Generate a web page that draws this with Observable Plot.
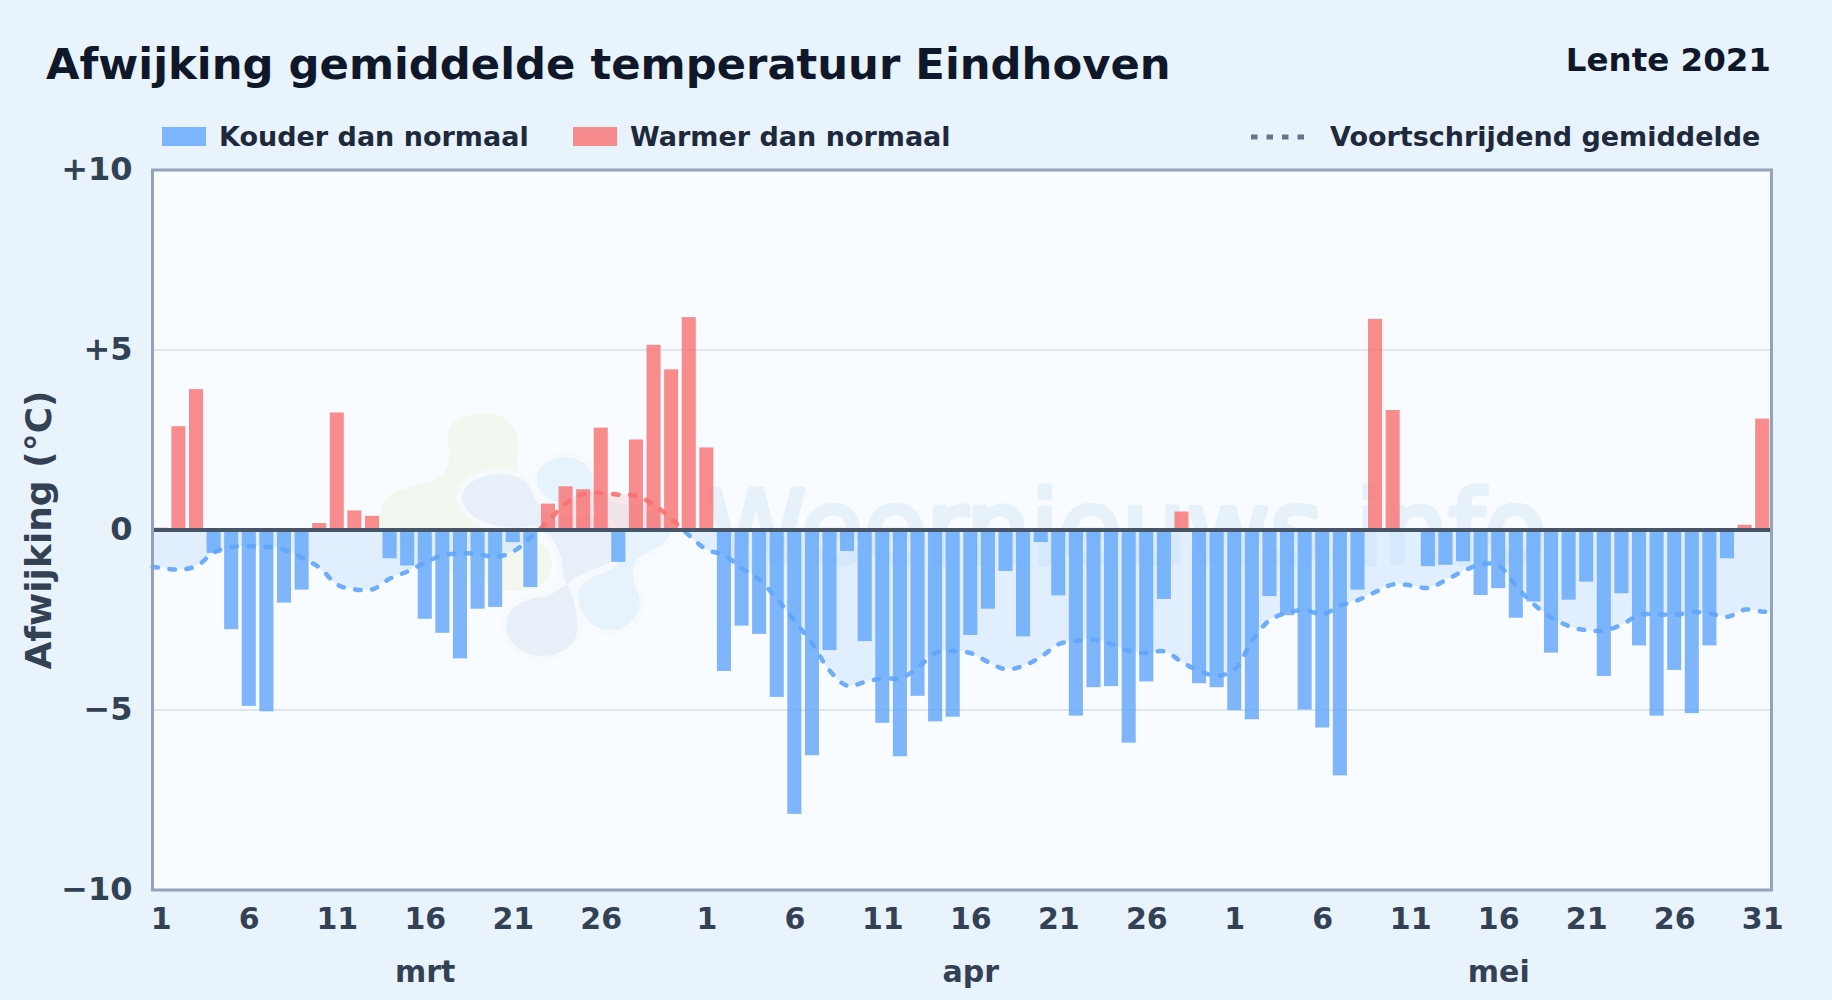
<!DOCTYPE html>
<html lang="nl">
<head>
<meta charset="utf-8">
<title>Afwijking gemiddelde temperatuur Eindhoven</title>
<script src="https://cdn.jsdelivr.net/npm/d3@7"></script>
<script src="https://cdn.jsdelivr.net/npm/@observablehq/plot@0.6"></script>
<style>
  html,body{margin:0;padding:0;background:#e8f3fc;}
  body{width:1832px;height:1000px;position:relative;overflow:hidden;font-family:"DejaVu Sans",sans-serif;font-weight:700;}
  #header{position:relative;height:130px;}
  #header > *{position:absolute;white-space:nowrap;}
  #title{left:46px;top:39px;font-size:43.3px;line-height:50px;color:#0f172a;}
  #season{right:61px;top:41px;font-size:32.5px;line-height:38px;color:#0f172a;}
  .lab{top:120px;font-size:27px;line-height:34px;color:#1e293b;}
  .sw{top:127px;height:19px;width:44px;}
  #chart{position:absolute;left:0;top:130px;}
  #chart svg{display:block;background:transparent;}
</style>
</head>
<body>
<div id="header">
  <div id="title">Afwijking gemiddelde temperatuur Eindhoven</div>
  <div id="season">Lente 2021</div>
  <div class="sw" style="left:162px;background:#60a5fa;opacity:.8"></div>
  <div class="lab" style="left:219px">Kouder dan normaal</div>
  <div class="sw" style="left:573px;background:#f87171;opacity:.8"></div>
  <div class="lab" style="left:630px">Warmer dan normaal</div>
  <svg style="left:1250px;top:130px" width="60" height="14"><line x1="1" x2="59" y1="7" y2="7" stroke="#64748b" stroke-width="5" stroke-dasharray="6.5 9"/></svg>
  <div class="lab" style="left:1330px">Voortschrijdend gemiddelde</div>
</div>
<div id="chart"></div>
<script>
// Maanden
const months = ["mrt", "apr", "mei"];
const monthLengths = [31, 30, 31];
const dayTicks = [1, 6, 11, 16, 21, 26];
const monthLabelDay = 16;
const yTicks = [-10, -5, 0, 5, 10];

// Dagelijkse afwijking (°C)
const devMrt = [0.05, 2.87, 3.9, -0.65, -2.77, -4.9, -5.05, -2.03, -1.67, 0.18, 3.25, 0.53, 0.38, -0.8, -1.0, -2.48, -2.87, -3.58, -2.2, -2.15, -0.35, -1.6, 0.72, 1.2, 1.12, 2.83, -0.9, 2.5, 5.13, 4.45, 5.9];
const devApr = [2.28, -3.93, -2.67, -2.9, -4.65, -7.9, -6.27, -3.35, -0.6, -3.1, -5.37, -6.3, -4.62, -5.33, -5.2, -2.93, -2.2, -1.15, -2.97, -0.35, -1.83, -5.17, -4.38, -4.35, -5.92, -4.22, -1.93, 0.5, -4.27, -4.38];
const devMei = [-5.02, -5.27, -1.85, -2.38, -5.0, -5.5, -6.83, -1.67, 5.85, 3.32, 0, -1.02, -0.98, -0.88, -1.82, -1.63, -2.45, -2.0, -3.42, -1.95, -1.45, -4.07, -1.77, -3.22, -5.17, -3.9, -5.1, -3.22, -0.8, 0.13, 3.08];

// Voortschrijdend gemiddelde (°C)
const avgMrt = [-1.05, -1.1, -1.0, -0.62, -0.48, -0.45, -0.47, -0.55, -0.78, -1.05, -1.52, -1.65, -1.65, -1.35, -1.15, -0.9, -0.7, -0.65, -0.67, -0.75, -0.6, -0.2, 0.25, 0.75, 1.0, 1.03, 0.98, 0.95, 0.7, 0.3, -0.15];
const avgApr = [-0.55, -0.7, -1.07, -1.39, -1.93, -2.53, -3.17, -3.92, -4.33, -4.22, -4.12, -4.12, -3.82, -3.42, -3.37, -3.42, -3.67, -3.87, -3.77, -3.52, -3.17, -3.08, -3.05, -3.17, -3.37, -3.42, -3.37, -3.67, -3.92, -4.05];
const avgMei = [-3.87, -3.06, -2.5, -2.3, -2.23, -2.34, -2.1, -1.95, -1.72, -1.51, -1.54, -1.61, -1.39, -1.14, -0.95, -0.99, -1.57, -2.07, -2.44, -2.67, -2.79, -2.79, -2.63, -2.36, -2.34, -2.36, -2.28, -2.32, -2.41, -2.21, -2.27];
const avgEdgeStart = -1.03;
const avgEdgeEnd = -2.28;

// Tabellen
const monthStart = d3.cumsum([0, ...monthLengths]);
const totalDays = d3.sum(monthLengths);
const bars = [...devMrt, ...devApr, ...devMei].map((v, i) => ({i, v}));
const avg = [...avgMrt, ...avgApr, ...avgMei].map((v, i) => ({x: i + 0.5, v}));
const avgLine = [{x: 0, v: avgEdgeStart}, ...avg, {x: totalDays, v: avgEdgeEnd}];

const dayTickPos = [], dayTickText = new Map();
monthLengths.forEach((n, m) => dayTicks.concat(m === 2 ? [31] : []).forEach(d => {
  const p = monthStart[m] + d - 0.5;
  dayTickPos.push(p); dayTickText.set(p, String(d));
}));
const monthTickPos = months.map((_, m) => monthStart[m] + monthLabelDay - 0.5);

const vMax = d3.max(avgLine, d => d.v), vMin = d3.min(avgLine, d => d.v);
const zeroOffset = vMax / (vMax - vMin);

function gradients() {
  const defs = d3.create("svg:defs");
  const grad = (id, top, bottom) => {
    const g = defs.append("linearGradient").attr("id", id).attr("x1", 0).attr("x2", 0).attr("y1", 0).attr("y2", 1);
    [[0, top], [zeroOffset, top], [zeroOffset, bottom], [1, bottom]].forEach(([o, c]) =>
      g.append("stop").attr("offset", o).attr("stop-color", c));
  };
  grad("avgStroke", "#f87171", "#60a5fa");
  grad("avgFill", "#fecaca", "#bfdbfe");
  return defs.node();
}

// Decoratief logo in de achtergrond van het watermerk
function logo() {
  const g = d3.create("svg:g").attr("transform", "translate(360,260) scale(.3333)");
  const bg = "#f6fafd";
  g.append("path").attr("fill", "#f2f8f0").attr("d",
    "M265,130 C262,170 280,210 250,250 C225,280 130,290 90,315 C55,340 55,390 60,430 L150,500 L430,600 C470,610 530,600 560,570 C590,530 575,480 530,450 L470,230 C470,190 480,160 470,130 C450,90 420,70 380,70 C320,70 265,90 265,130 Z");
  g.append("path").attr("fill", "#e7eff8").attr("stroke", bg).attr("stroke-width", 32).attr("paint-order", "stroke").attr("d",
    "M305,325 C310,270 380,250 430,252 C490,255 510,285 520,315 C535,350 570,375 640,375 C700,370 760,400 790,440 C800,480 780,510 720,530 C660,545 620,590 560,620 C490,625 440,650 438,705 C440,770 500,798 550,798 C610,795 655,760 653,710 C650,650 640,620 610,560 C610,500 590,430 520,408 C430,425 320,400 305,325 Z");
  g.append("path").attr("fill", "#e6f3fd").attr("stroke", bg).attr("stroke-width", 30).attr("paint-order", "stroke").attr("d",
    "M530,265 C530,225 580,200 620,200 C670,205 700,240 700,275 C695,310 730,330 800,345 C880,370 930,390 932,425 C925,465 870,480 835,505 C810,530 815,570 835,610 C855,670 800,722 755,722 C700,720 660,680 655,625 C645,590 690,560 740,545 C780,530 810,480 770,410 C720,350 640,345 580,335 C550,320 530,300 530,265 Z");
  return g.node();
}

const fmtY = v => v > 0 ? "+" + v : v < 0 ? "\u2212" + Math.abs(v) : "0";
const tickFont = {fontSize: 30, fontWeight: 700, fill: "#334155"};

const chart = Plot.plot({
  width: 1832,
  height: 870,
  marginTop: 39.5,
  marginBottom: 110.5,
  marginLeft: 152,
  marginRight: 61,
  style: {fontFamily: "'DejaVu Sans', sans-serif", background: "transparent"},
  x: {domain: [0, totalDays]},
  y: {domain: [-10, 10]},
  marks: [
    gradients,
    Plot.frame({fill: "#f8fbff"}),
    logo,
    Plot.text(["Weernieuws.info"], {
      frameAnchor: "left", textAnchor: "start", lineAnchor: "middle", dx: 553, dy: 0,
      fontSize: 102, fontWeight: 400, fill: "#e6f1fa", stroke: "#e6f1fa", strokeWidth: 5
    }),
    Plot.gridY([-5, 5], {stroke: "#dfe6ee", strokeWidth: 2, strokeOpacity: 1}),
    Plot.areaY(avgLine, {x: "x", y1: 0, y2: "v", curve: "catmull-rom", fill: "url(#avgFill)", fillOpacity: 0.4}),
    Plot.rectY(bars.filter(d => d.v < 0), {x1: d => d.i + 0.1, x2: d => d.i + 0.9, y1: 0, y2: "v", fill: "#60a5fa", fillOpacity: 0.8, inset: 0}),
    Plot.rectY(bars.filter(d => d.v > 0), {x1: d => d.i + 0.1, x2: d => d.i + 0.9, y1: 0, y2: "v", fill: "#f87171", fillOpacity: 0.8, inset: 0}),
    Plot.line(avgLine, {x: "x", y: "v", curve: "catmull-rom", stroke: "url(#avgStroke)", strokeWidth: 4.5, strokeDasharray: "5.5 11.5", strokeLinecap: "round", strokeOpacity: 0.9}),
    Plot.ruleY([0], {stroke: "#475569", strokeWidth: 4}),
    Plot.frame({stroke: "#94a3b8", strokeWidth: 3}),
    Plot.axisY(yTicks, {tickSize: 0, tickPadding: 20, tickFormat: fmtY, label: null, ...tickFont, fontSize: 32}),
    Plot.axisX(dayTickPos, {tickSize: 0, tickPadding: 18, tickFormat: p => dayTickText.get(p), label: null, ...tickFont}),
    Plot.axisX(monthTickPos, {tickSize: 0, tickPadding: 71, tickFormat: p => months[monthTickPos.indexOf(p)], label: null, ...tickFont}),
    Plot.text(["Afwijking (\u00b0C)"], {
      frameAnchor: "left", rotate: -90, dx: -113, fontSize: 36, fontWeight: 700, fill: "#334155", textAnchor: "middle"
    })
  ]
});
document.getElementById("chart").append(chart);
</script>
</body>
</html>
